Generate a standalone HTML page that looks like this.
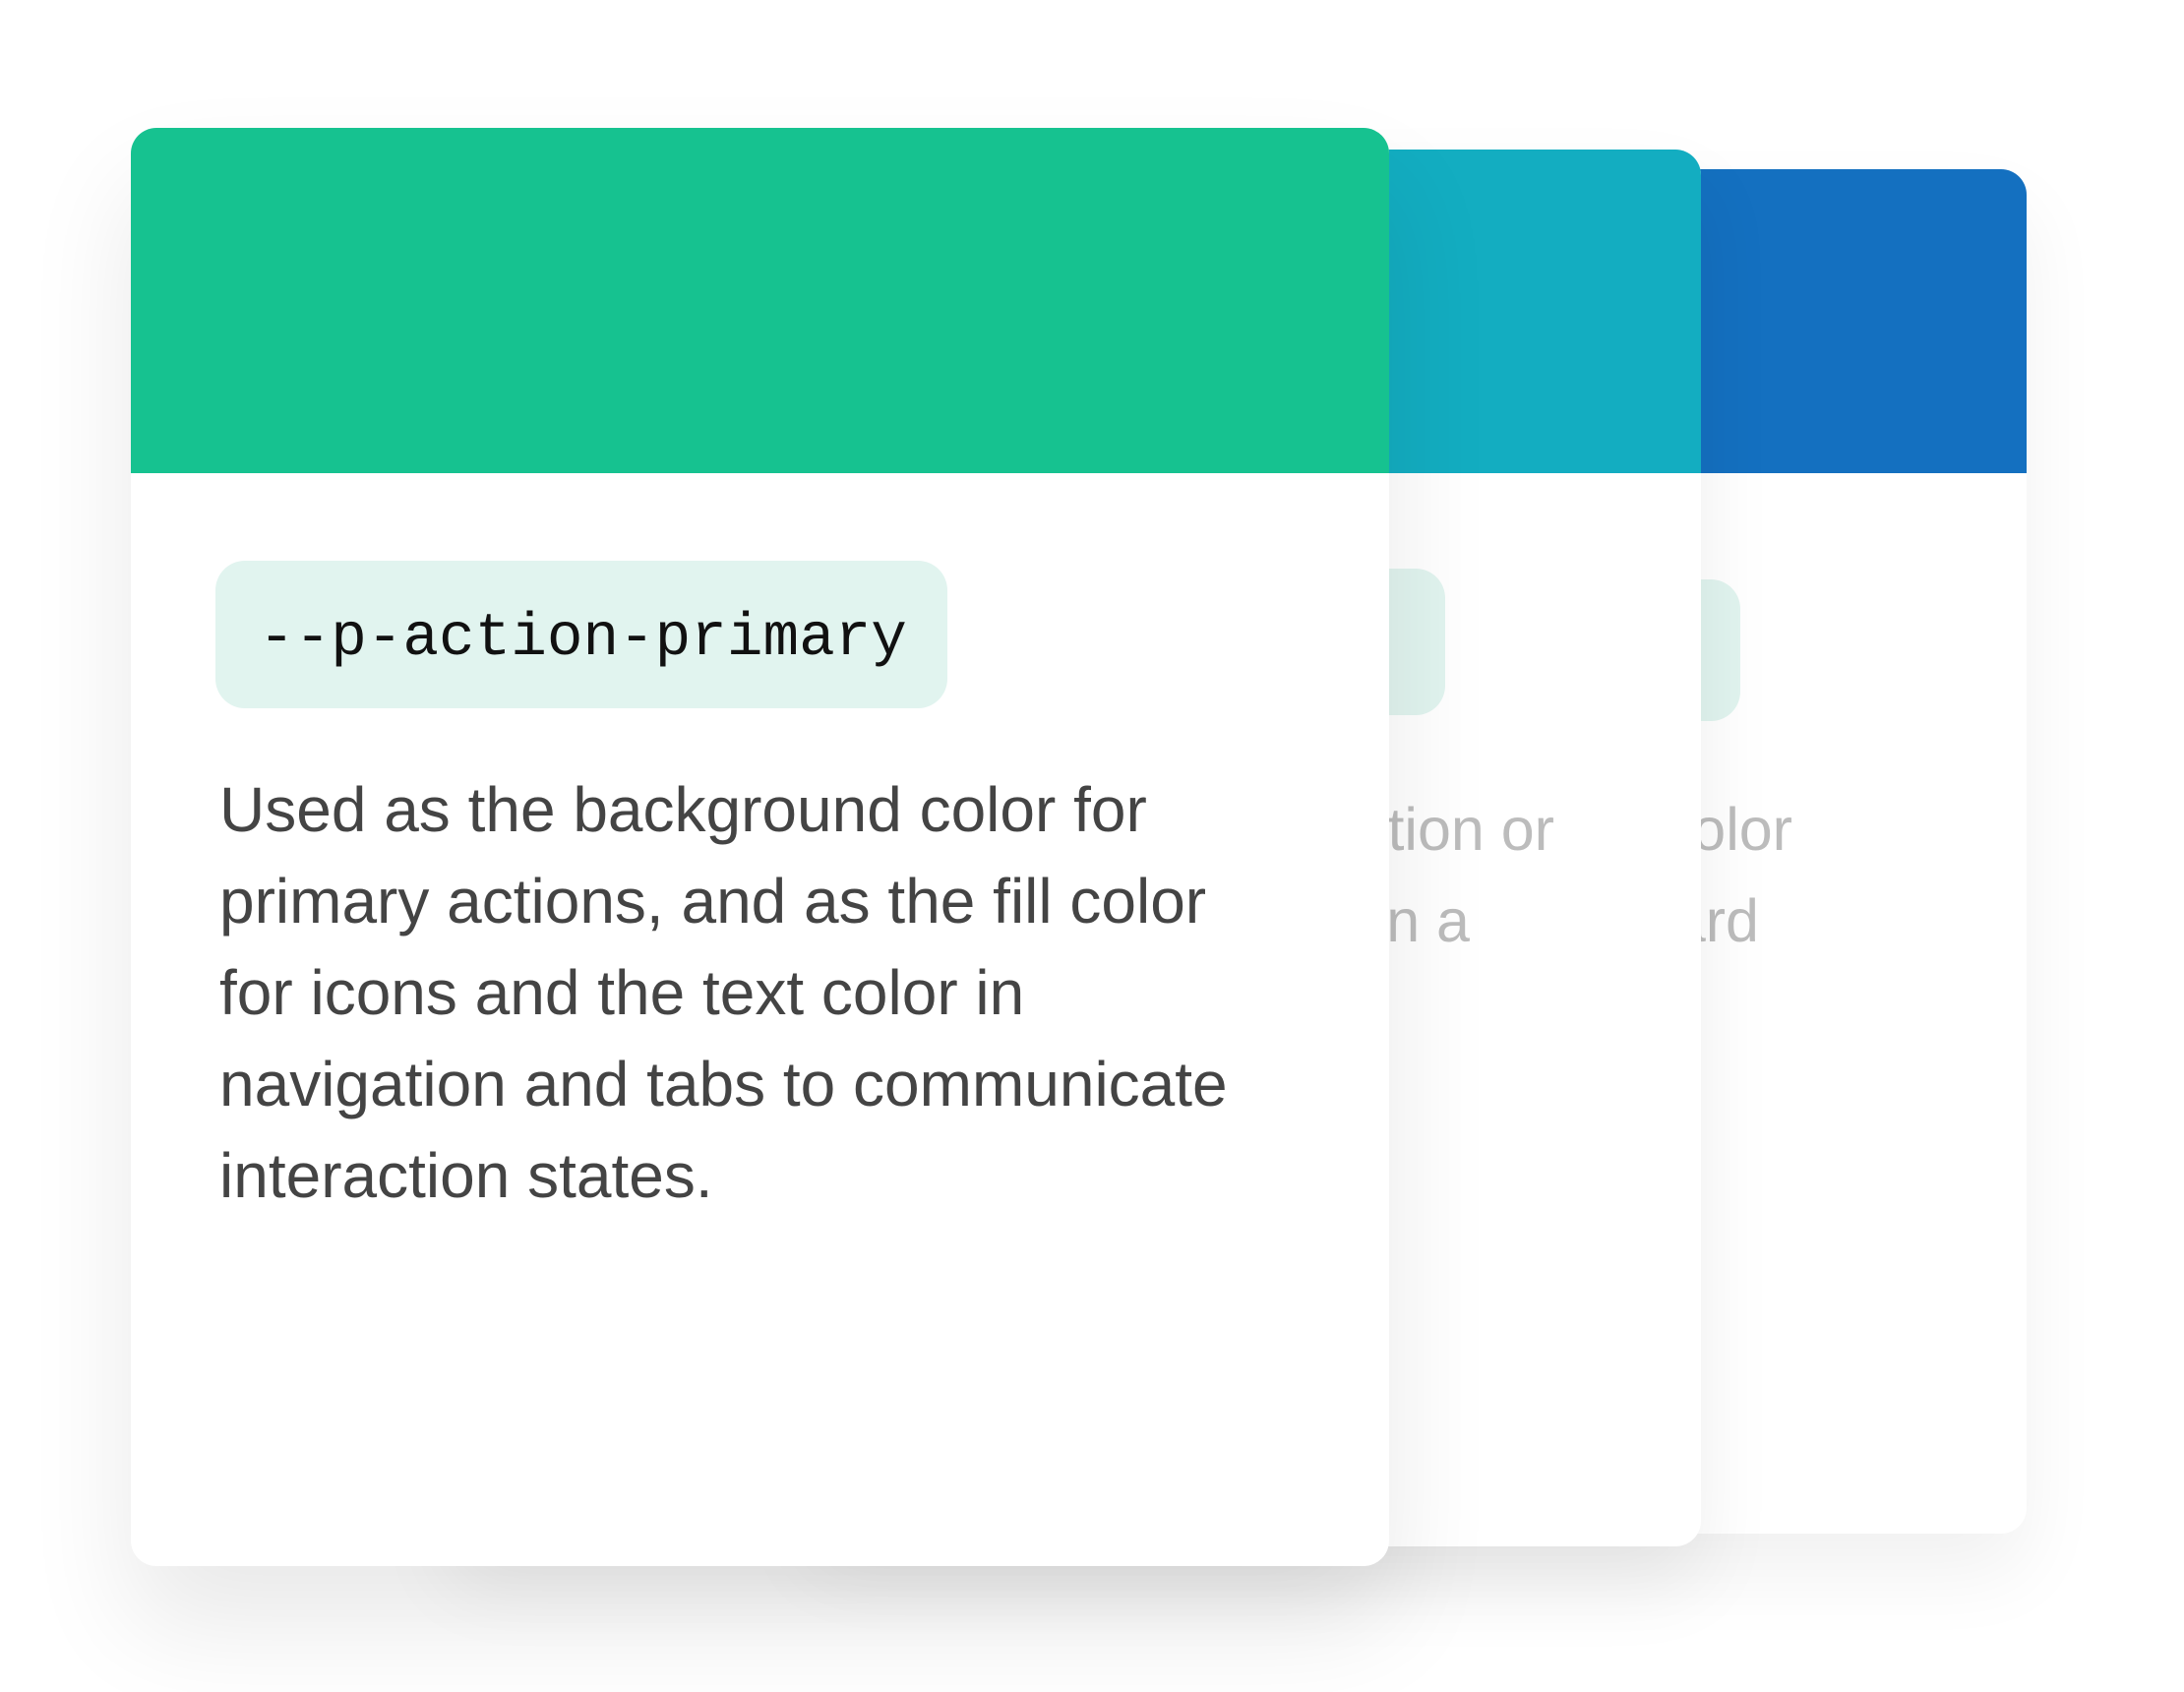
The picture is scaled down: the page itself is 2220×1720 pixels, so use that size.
<!DOCTYPE html>
<html><head><style>
html,body{margin:0;padding:0;background:#fff;}
body{width:2220px;height:1720px;position:relative;overflow:hidden;font-family:"Liberation Sans",sans-serif;}
.card{position:absolute;background:#fff;border-radius:26px;overflow:hidden;}
.hdr{position:absolute;left:0;right:0;top:0;}
.pill{position:absolute;background:#E1F4EF;border-radius:30px;}
.gt{position:absolute;color:#bcbcbc;font-size:61px;line-height:93px;white-space:nowrap;text-align:right;}
</style></head><body>
<div class="card" style="left:820px;top:172px;width:1240px;height:1387px;box-shadow:0 40px 80px rgba(0,0,0,0.06);">
  <div class="hdr" style="height:309px;background:#1470C0;"></div>
  <div class="pill" style="left:400px;top:417px;width:549px;height:144px;"></div>
  <div class="gt" style="right:238px;top:625px;">Used as the primary color</div>
  <div class="gt" style="right:272px;top:718px;">shown on a card</div>
</div>
<div class="card" style="left:455px;top:152px;width:1274px;height:1420px;box-shadow:0 40px 80px rgba(0,0,0,0.07);">
  <div class="hdr" style="height:329px;background:#13ADC1;"></div>
  <div class="pill" style="left:400px;top:426px;width:614px;height:149px;"></div>
  <div class="gt" style="right:149px;top:645px;">Used for a secondary action or</div>
  <div class="gt" style="right:235px;top:738px;">shown in a</div>
</div>
<div class="card" style="left:133px;top:130px;width:1279px;height:1462px;box-shadow:0 60px 110px rgba(0,0,0,0.09);">
  <div class="hdr" style="height:351px;background:#16C290;"></div>
  <div class="pill" style="left:86px;top:440px;width:744px;height:150px;"></div>
  <div style="position:absolute;left:130px;top:485px;font-family:'Liberation Mono',monospace;font-size:61px;line-height:70px;color:#111;">--p-action-primary</div>
  <div style="position:absolute;left:90px;top:647px;width:1170px;font-size:64px;line-height:93px;color:#444;white-space:nowrap;">Used as the background color for<br>primary actions, and as the fill color<br>for icons and the text color in<br>navigation and tabs to communicate<br>interaction states.</div>
</div>
</body></html>
